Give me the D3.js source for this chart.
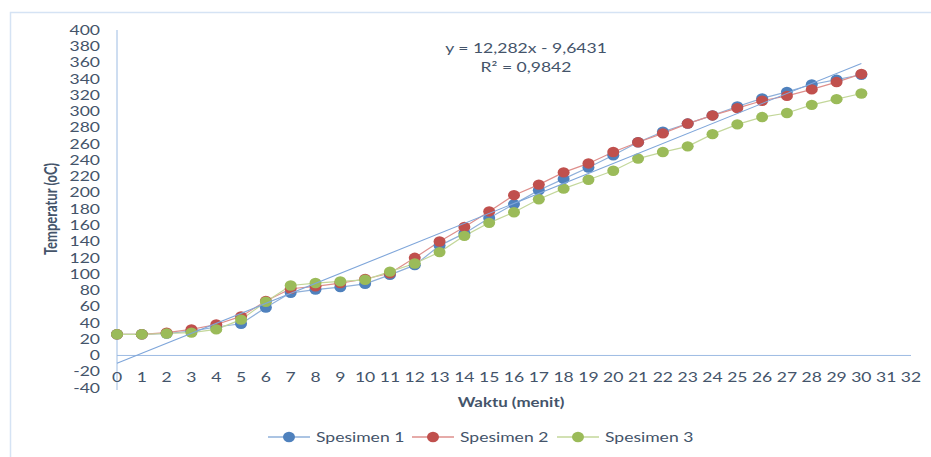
<!DOCTYPE html>
<html><head><meta charset="utf-8">
<script src="https://cdn.jsdelivr.net/npm/d3@7"></script>
<style>body{margin:0;background:#fff}svg{display:block;font-family:Lato,"Open Sans",sans-serif}</style>
</head><body><svg id="c" width="931" height="457"></svg>
<script>
const minutes = d3.range(0, 31);
const spesimen1 = [26,26,27,30,35,39,59,77,81,84,88,99,111,135,150,169,186,203,217,231,246,262,275,285,295,306,316,324,333,339,345];
const spesimen2 = [26,26,28,32,38,48,67,82,85,89,94,101,120,140,158,177,197,210,225,236,250,262,273,285,295,304,313,319,327,336,346];
const spesimen3 = [26,26,27,28,32,44,66,86,89,91,93,103,113,127,147,163,176,192,205,216,227,242,250,257,272,284,293,298,308,315,322];
const seriesNames = ["Spesimen 1","Spesimen 2","Spesimen 3"];
const seriesColors = ["#4F81BD","#C0504D","#9BBB59"];
const lineColors = ["#8FB0DA","#DE8F8C","#C3D79A"];
const xTicks = d3.range(0, 33);
const yTicks = d3.range(-40, 401, 20);
const trendSlope = 12.282, trendIntercept = -9.6431;
const trendText = ["y = 12,282x - 9,6431", "R² = 0,9842"];

const svg = d3.select("#c");
const textColor = "#44546A";
const SX = 1.3; // horizontal stretch of text seen in the reference

function label(sel, px, py, opts) {
  const t = sel.append("text")
    .attr("transform", `translate(${px},${py}) scale(${SX},1)` + (opts.rotate ? ` rotate(${opts.rotate})` : ""))
    .attr("dy","0.35em").attr("text-anchor", opts.anchor || "middle")
    .attr("font-size", opts.size || 13.5).attr("fill", textColor)
    .text(opts.text);
  if (opts.bold) t.attr("font-weight","bold");
  return t;
}

// chart border
svg.append("rect").attr("x",10.5).attr("y",12.5).attr("width",940).attr("height",460)
  .attr("fill","none").attr("stroke","#D5E3F4").attr("stroke-width",1.5);

const x = d3.scaleLinear().domain([0,32]).range([117,911]);
const y = d3.scaleLinear().domain([-40,400]).range([388,30]);

svg.append("line").attr("x1",x(0)).attr("x2",x(0)).attr("y1",y(400)).attr("y2",y(-40)+2)
  .attr("stroke","#9DBCE3").attr("stroke-width",1);
svg.append("line").attr("x1",x(0)).attr("x2",x(32)).attr("y1",y(0)).attr("y2",y(0))
  .attr("stroke","#9DBCE3").attr("stroke-width",1);

const gy = svg.append("g");
yTicks.forEach(d => label(gy, x(0)-17, y(d), {text:d, anchor:"end"}));
const gx = svg.append("g");
xTicks.forEach(d => label(gx, x(d), 377, {text:d}));

label(svg, 51, y(180), {text:"Temperatur (oC)", rotate:-90, bold:true, size:13});
label(svg, 511, 402, {text:"Waktu (menit)", bold:true, size:13});

const data = [spesimen1, spesimen2, spesimen3];
const line = d3.line().x((d,i)=>x(minutes[i])).y(d=>y(d));
data.forEach((s,k)=>{
  svg.append("path").attr("d",line(s)).attr("fill","none").attr("stroke",lineColors[k]).attr("stroke-width",1.2);
});
data.forEach((s,k)=>{
  svg.append("g").selectAll("ellipse").data(s).join("ellipse")
    .attr("cx",(d,i)=>x(minutes[i])).attr("cy",d=>y(d)).attr("rx",6).attr("ry",5.2)
    .attr("fill",seriesColors[k]);
});

svg.append("line").attr("x1",x(0)).attr("y1",y(trendIntercept))
  .attr("x2",x(30)).attr("y2",y(trendSlope*30+trendIntercept))
  .attr("stroke","#7FA6DA").attr("stroke-width",1.1);
trendText.forEach((t,i) => label(svg, 526, 48+i*19, {text:t}));

const legX = [289,433,578];
seriesNames.forEach((n,k)=>{
  const g = svg.append("g");
  g.append("line").attr("x1",legX[k]-21).attr("x2",legX[k]+21).attr("y1",437).attr("y2",437)
    .attr("stroke",lineColors[k]).attr("stroke-width",1.5);
  g.append("ellipse").attr("cx",legX[k]).attr("cy",437).attr("rx",6).attr("ry",5.2).attr("fill",seriesColors[k]);
  label(g, legX[k]+27, 437, {text:n, anchor:"start"});
});
</script></body></html>
